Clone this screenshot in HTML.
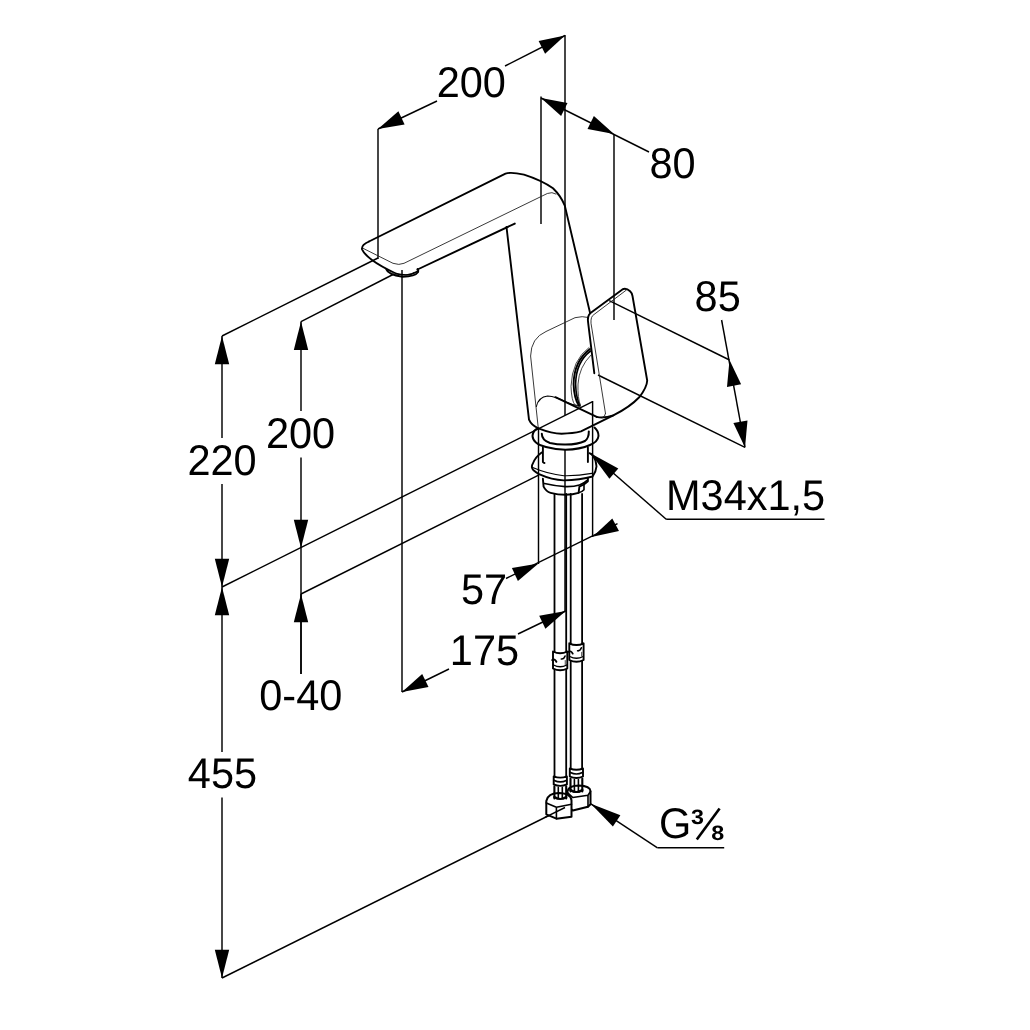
<!DOCTYPE html>
<html><head><meta charset="utf-8"><style>
html,body{margin:0;padding:0;background:#fff;}
svg{display:block;filter:grayscale(100%);}
text{font-family:"Liberation Sans",sans-serif;fill:#000;text-rendering:geometricPrecision;}
</style></head><body>
<svg width="1030" height="1030" viewBox="0 0 1030 1030">
<rect width="1030" height="1030" fill="#fff"/>
<line x1="565" y1="35" x2="565" y2="415" stroke="#000" stroke-width="1.45"/>
<line x1="565" y1="449.7" x2="565" y2="611" stroke="#000" stroke-width="1.45"/>
<line x1="378" y1="129" x2="378" y2="259" stroke="#000" stroke-width="1.45"/>
<line x1="378" y1="129" x2="437" y2="101" stroke="#000" stroke-width="1.45"/>
<line x1="505" y1="66" x2="565" y2="35.5" stroke="#000" stroke-width="1.45"/>
<path d="M378.0,129.0 L404.6,124.4 L398.4,111.3 Z" fill="#000"/>
<path d="M565.0,35.5 L538.6,40.9 L545.1,53.7 Z" fill="#000"/>
<text transform="translate(436.64,97.33) scale(0.965,1)" font-size="43.0">200</text>
<line x1="541" y1="96.5" x2="541" y2="224" stroke="#000" stroke-width="1.45"/>
<line x1="614" y1="134" x2="614" y2="320" stroke="#000" stroke-width="1.45"/>
<line x1="541" y1="98" x2="649" y2="152" stroke="#000" stroke-width="1.45"/>
<path d="M541.0,98.0 L561.1,116.0 L567.5,103.0 Z" fill="#000"/>
<path d="M614.0,134.0 L593.9,116.0 L587.5,129.0 Z" fill="#000"/>
<text transform="translate(649.42,178.28) scale(0.965,1)" font-size="43.0">80</text>
<line x1="609.2" y1="300.6" x2="729.5" y2="360" stroke="#000" stroke-width="1.45"/>
<line x1="598" y1="375" x2="745" y2="447.4" stroke="#000" stroke-width="1.45"/>
<line x1="721.6" y1="320" x2="745" y2="447.4" stroke="#000" stroke-width="1.45"/>
<path d="M729.5,360.0 L727.0,386.9 L741.1,384.3 Z" fill="#000"/>
<path d="M745.0,447.4 L747.5,420.5 L733.4,423.1 Z" fill="#000"/>
<text transform="translate(694.62,311.28) scale(0.965,1)" font-size="43.0">85</text>
<line x1="222" y1="336" x2="378" y2="258" stroke="#000" stroke-width="1.45"/>
<line x1="222" y1="336" x2="222" y2="438" stroke="#000" stroke-width="1.45"/>
<line x1="222" y1="484" x2="222" y2="587" stroke="#000" stroke-width="1.45"/>
<path d="M222.0,336.0 L214.8,364.3 L229.2,364.3 Z" fill="#000"/>
<path d="M222.0,587.0 L229.2,558.7 L214.8,558.7 Z" fill="#000"/>
<text transform="translate(187.44,475.19) scale(0.965,1)" font-size="43.0">220</text>
<line x1="301" y1="321.6" x2="393" y2="274.5" stroke="#000" stroke-width="1.45"/>
<line x1="301" y1="321.6" x2="301" y2="411" stroke="#000" stroke-width="1.45"/>
<line x1="301" y1="457.5" x2="301" y2="674" stroke="#000" stroke-width="1.45"/>
<path d="M301.0,321.6 L293.8,349.9 L308.2,349.9 Z" fill="#000"/>
<path d="M301.0,548.0 L308.2,519.7 L293.8,519.7 Z" fill="#000"/>
<text transform="translate(265.94,448.48) scale(0.965,1)" font-size="43.0">200</text>
<line x1="222" y1="587" x2="592.6" y2="401.7" stroke="#000" stroke-width="1.45"/>
<line x1="301" y1="594" x2="538.6" y2="475.2" stroke="#000" stroke-width="1.45"/>
<line x1="301" y1="594" x2="301" y2="674" stroke="#000" stroke-width="1.45"/>
<path d="M301.0,594.0 L293.8,622.3 L308.2,622.3 Z" fill="#000"/>
<text transform="translate(259.25,710.34) scale(0.965,1)" font-size="43.0">0-40</text>
<line x1="222" y1="587" x2="222" y2="752" stroke="#000" stroke-width="1.45"/>
<line x1="222" y1="797.5" x2="222" y2="978" stroke="#000" stroke-width="1.45"/>
<path d="M222.0,587.0 L214.8,615.3 L229.2,615.3 Z" fill="#000"/>
<path d="M222.0,978.0 L229.2,949.7 L214.8,949.7 Z" fill="#000"/>
<text transform="translate(187.87,788.37) scale(0.965,1)" font-size="43.0">455</text>
<line x1="222" y1="978" x2="565" y2="807.5" stroke="#000" stroke-width="1.45"/>
<line x1="402" y1="270" x2="402" y2="692" stroke="#000" stroke-width="1.45"/>
<line x1="402" y1="692" x2="449" y2="669" stroke="#000" stroke-width="1.45"/>
<line x1="518" y1="634" x2="565.7" y2="611" stroke="#000" stroke-width="1.45"/>
<path d="M402.0,692.0 L428.5,687.0 L422.2,674.1 Z" fill="#000"/>
<path d="M565.7,611.0 L539.2,615.8 L545.4,628.8 Z" fill="#000"/>
<text transform="translate(449.82,665.47) scale(0.965,1)" font-size="43.0">175</text>
<line x1="538.5" y1="428" x2="538.5" y2="564" stroke="#000" stroke-width="1.45"/>
<line x1="592.6" y1="401" x2="592.6" y2="537" stroke="#000" stroke-width="1.45"/>
<line x1="506" y1="578.5" x2="617.5" y2="523.6" stroke="#000" stroke-width="1.45"/>
<path d="M538.5,563.5 L511.9,567.9 L517.9,580.9 Z" fill="#000"/>
<path d="M592.6,536.8 L619.0,531.1 L612.3,518.4 Z" fill="#000"/>
<text transform="translate(460.88,604.07) scale(0.965,1)" font-size="43.0">57</text>
<path d="M590.5,453.3 L609.4,478.8 L618.3,468.5 Z" fill="#000"/>
<line x1="590.5" y1="453.3" x2="666.2" y2="519.2" stroke="#000" stroke-width="1.45"/>
<line x1="666.2" y1="519.2" x2="824.5" y2="519.2" stroke="#000" stroke-width="1.45"/>
<text transform="translate(666.01,509.78) scale(0.965,1)" font-size="43.0">M34x1,5</text>
<path d="M590.8,803.8 L612.9,826.5 L620.4,815.2 Z" fill="#000"/>
<line x1="590.8" y1="803.8" x2="657.5" y2="847.8" stroke="#000" stroke-width="1.45"/>
<line x1="657.5" y1="847.8" x2="724.2" y2="847.8" stroke="#000" stroke-width="1.45"/>
<text transform="translate(659.09,838.49) scale(0.965,1)" font-size="43.0">G</text>
<text transform="translate(691,824.1) scale(1.12,1)" font-size="20.8" font-weight="bold">3</text>
<text transform="translate(711.2,839.6) scale(1.12,1)" font-size="20.8" font-weight="bold">8</text>
<line x1="696.8" y1="839.6" x2="719.6" y2="808.5" stroke="#000" stroke-width="2.6"/>
<path d="M369,241.5 L505.5,173.6 Q511,171.8 524,174.6 Q541,180 553,188.2 Q561,196 564.8,205.6 L590.1,313.1" stroke="#000" stroke-width="1.9" fill="none" stroke-linejoin="round" stroke-linecap="round"/>
<path d="M369,241.5 Q361,245 362.1,249.5 Q364,254 372,260 Q380,266 395.8,273.5 M417.5,269.5 L514.8,223.6" stroke="#000" stroke-width="1.9" fill="none" stroke-linejoin="round" stroke-linecap="round"/>
<path d="M363.2,248.4 L393,263.3 Q399,265.5 404,263.3 L547.3,193.5 Q552,191.5 556,194" stroke="#222" stroke-width="0.9" fill="none" stroke-linejoin="round" stroke-linecap="round"/>
<path d="M386.3,269.4 Q388,274.5 402.6,276.9 Q415,276.8 418.2,272.1 Q418.8,270 417.5,269" stroke="#000" stroke-width="1.8" fill="none" stroke-linejoin="round" stroke-linecap="round"/>
<path d="M392,273 Q400,275.2 406,274.8 Q412,274.5 414,272.5" stroke="#333" stroke-width="1.0" fill="none" stroke-linejoin="round" stroke-linecap="round"/>
<path d="M395.8,273.5 Q401,275 406,275 Q413,274.5 418,271" stroke="#000" stroke-width="1.6" fill="none" stroke-linejoin="round" stroke-linecap="round"/>
<path d="M506.5,227 L529,419.7 Q531.5,425.5 538.3,428.3 Q552,433.5 561.6,433.7 Q573,433.5 581,431.4 L613.3,415.4" stroke="#000" stroke-width="1.9" fill="none" stroke-linejoin="round" stroke-linecap="round"/>
<path d="M587.4,317.3 Q583,315.8 575,317.7 L546,331.5 Q531,338 530.6,356 L538.3,428.3" stroke="#222" stroke-width="0.9" fill="none" stroke-linejoin="round" stroke-linecap="round"/>
<path d="M536.4,406.5 Q538.5,397 547.6,396 Q556,396.5 565.5,401.8 Q572,405 579.5,406.1" stroke="#000" stroke-width="1.1" fill="none" stroke-linejoin="round" stroke-linecap="round"/>
<path d="M555.4,397.2 L596.7,416.9" stroke="#000" stroke-width="1.9" fill="none" stroke-linejoin="round" stroke-linecap="round"/>
<path d="M594.3,373.2 L588.2,323.2 Q587,316 590.5,313.1 L622.4,289.4 Q626,287.5 630.1,291.3 Q632,293 632.5,296 L647.2,380.5 Q647,387 639.5,397 Q630,407 613.3,415.4 Q604,418.5 596.7,416.9" stroke="#000" stroke-width="1.9" fill="none" stroke-linejoin="round" stroke-linecap="round"/>
<path d="M605.5,413.5 L591,323.2 Q590.5,316.5 594,314.5 L626.3,290.1" stroke="#222" stroke-width="0.9" fill="none" stroke-linejoin="round" stroke-linecap="round"/>
<path d="M605.5,413.5 Q605,417 602.6,417.4" stroke="#222" stroke-width="0.9" fill="none" stroke-linejoin="round" stroke-linecap="round"/>
<path d="M589,347.5 Q572,360 571,386.3 Q571.5,401 575,405 Q577,405.8 579,405.7" stroke="#333" stroke-width="0.9" fill="none" stroke-linejoin="round" stroke-linecap="round"/>
<path d="M590,349 Q574,361 573.6,384 Q574,398 578.8,405.5" stroke="#000" stroke-width="1.9" fill="none" stroke-linejoin="round" stroke-linecap="round"/>
<path d="M590.5,351 Q576,362 575.6,384 Q576,398 580.2,405.8" stroke="#000" stroke-width="1.6" fill="none" stroke-linejoin="round" stroke-linecap="round"/>
<path d="M591,355 Q579,367 578,384 Q577.5,398 580.5,405.7" stroke="#333" stroke-width="0.9" fill="none" stroke-linejoin="round" stroke-linecap="round"/>
<path d="M538.3,428.3 Q533,430 532.5,436 Q533,444 546,447 Q556,449.6 565.4,449.7 Q580,449.5 590,445 Q598,441.6 598.5,436 Q598.5,431 594.5,427.6" stroke="#000" stroke-width="2.0" fill="none" stroke-linejoin="round" stroke-linecap="round"/>
<path d="M541.8,433.7 Q541.8,440 550,443 Q558,444.8 565.6,444.6 Q578,444.5 585,441 Q589,438 588.8,431.4" stroke="#000" stroke-width="2.0" fill="none" stroke-linejoin="round" stroke-linecap="round"/>
<path d="M542.9,447.5 L542.9,462 Q543.5,463 544.5,463 M587.9,447.5 L587.9,462" stroke="#000" stroke-width="1.9" fill="none" stroke-linejoin="round" stroke-linecap="round"/>
<path d="M541.7,452.4 Q535.1,457.1 533,463.3 Q530.5,467.2 533.5,470.3 Q536,472.5 539,474.2 Q552,480 563.8,480.4 Q580,480 592.6,476.5 Q596,472 596.5,466.4 Q596,460 593.3,456.3 Q592,454.5 589.5,453.2" stroke="#000" stroke-width="1.9" fill="none" stroke-linejoin="round" stroke-linecap="round"/>
<path d="M532,467.2 Q548,474 563.8,475.7 Q578,476 591.8,473.4" stroke="#000" stroke-width="1.1" fill="none" stroke-linejoin="round" stroke-linecap="round"/>
<path d="M542.9,478.8 L543.6,486.6 Q546,491.5 550.6,492.8 Q558,494.8 565.4,494.8 Q573,494.5 578.6,492.8 L579.4,486.6 Q584,485 587.9,481.2 L587.9,478" stroke="#000" stroke-width="1.9" fill="none" stroke-linejoin="round" stroke-linecap="round"/>
<path d="M544.4,483.5 Q555,486 565.4,486.6 Q574,486.8 579.4,485 Q584,483.5 587.1,480.4" stroke="#000" stroke-width="1.6" fill="none" stroke-linejoin="round" stroke-linecap="round"/>
<path d="M584,483 L584,489.7 Q582,492 578.6,492.8" stroke="#000" stroke-width="1.6" fill="none" stroke-linejoin="round" stroke-linecap="round"/>
<path d="M554.5,494 L554.5,777 M566.2,494 L566.2,777 M570.7,494 L570.7,770 M582.1,494 L582.1,770" stroke="#000" stroke-width="1.8" fill="none" stroke-linejoin="round" stroke-linecap="round"/>
<path d="M553,651.5 Q560.15,655.0 567.3,651.5 L567.3,668.5 Q560.15,672.0 553,668.5 Z" stroke="#000" stroke-width="1.9" fill="#fff" stroke-linejoin="round" stroke-linecap="round"/>
<path d="M553.5,665.0 Q560.15,668.5 566.8,665.0" stroke="#000" stroke-width="1.4" fill="none" stroke-linejoin="round" stroke-linecap="round"/>
<path d="M552.2,660.0 q2.5,-1.5 4.2,1.8" stroke="#000" stroke-width="1.9" fill="none" stroke-linejoin="round" stroke-linecap="round"/>
<path d="M561.3,659.0 q2.5,0.3 3.8,-3" stroke="#000" stroke-width="1.6" fill="none" stroke-linejoin="round" stroke-linecap="round"/>
<path d="M565.3,660.5 L565.3,664.5" stroke="#666" stroke-width="1.2" fill="none" stroke-linejoin="round" stroke-linecap="round"/>
<path d="M569.3,643.3 Q576.45,646.8 583.6,643.3 L583.6,660 Q576.45,663.5 569.3,660 Z" stroke="#000" stroke-width="1.9" fill="#fff" stroke-linejoin="round" stroke-linecap="round"/>
<path d="M569.8,656.5 Q576.45,660 583.1,656.5" stroke="#000" stroke-width="1.4" fill="none" stroke-linejoin="round" stroke-linecap="round"/>
<path d="M568.5,651.8 q2.5,-1.5 4.2,1.8" stroke="#000" stroke-width="1.9" fill="none" stroke-linejoin="round" stroke-linecap="round"/>
<path d="M577.6,650.8 q2.5,0.3 3.8,-3" stroke="#000" stroke-width="1.6" fill="none" stroke-linejoin="round" stroke-linecap="round"/>
<path d="M581.6,652.3 L581.6,656.3" stroke="#666" stroke-width="1.2" fill="none" stroke-linejoin="round" stroke-linecap="round"/>
<path d="M567.5,791 Q569,785.5 579,785.5 Q590,786 590.5,791 L590.5,804.2 L588,806.7 L572.8,810.5 L567.5,806 Z" stroke="#000" stroke-width="2.0" fill="#fff" stroke-linejoin="round" stroke-linecap="round"/>
<path d="M568,793 L572.8,797.5 L588,795.3 L590.5,791.5 M588,795.3 L588,806.7" stroke="#000" stroke-width="1.6" fill="none" stroke-linejoin="round" stroke-linecap="round"/>
<path d="M569.8,768.5 L569.8,776.5 Q576.4,779.5 583.0,776.5 L583.0,768.5 Q576.4,771.0 569.8,768.5 Z" stroke="#000" stroke-width="1.9" fill="#fff" stroke-linejoin="round" stroke-linecap="round"/>
<path d="M570.4,772.5 Q576.4,775.5 582.4,772.5" stroke="#000" stroke-width="1.7" fill="none" stroke-linejoin="round" stroke-linecap="round"/>
<path d="M570.5,778.5 L570.5,791.5 M582.3,778.5 L582.3,791.5" stroke="#000" stroke-width="2.1" fill="none" stroke-linejoin="round" stroke-linecap="round"/>
<path d="M574.4,779.5 L574.4,790.5 M578.4,779.5 L578.4,790.5" stroke="#000" stroke-width="1.6" fill="none" stroke-linejoin="round" stroke-linecap="round"/>
<path d="M570.4,790.0 Q576.4,794.0 582.4,790.0" stroke="#000" stroke-width="2.2" fill="none" stroke-linejoin="round" stroke-linecap="round"/>
<path d="M570.3,790 Q576.4,794.5 582.5,790" stroke="#000" stroke-width="1.6" fill="none" stroke-linejoin="round" stroke-linecap="round"/>
<path d="M546.3,801 Q548,793 559,793 Q571,793.5 571.5,800.4 L571.5,816.8 L556.4,818.7 L546.3,814.3 Z" stroke="#000" stroke-width="2.0" fill="#fff" stroke-linejoin="round" stroke-linecap="round"/>
<path d="M546.3,802.9 L556.4,807.3 L571.5,804.2 M556.4,807.3 L556.4,818.7" stroke="#000" stroke-width="1.6" fill="none" stroke-linejoin="round" stroke-linecap="round"/>
<path d="M553.6999999999999,776.4 L553.6999999999999,784.4 Q560.3,787.4 566.9,784.4 L566.9,776.4 Q560.3,778.9 553.6999999999999,776.4 Z" stroke="#000" stroke-width="1.9" fill="#fff" stroke-linejoin="round" stroke-linecap="round"/>
<path d="M554.3,780.4 Q560.3,783.4 566.3,780.4" stroke="#000" stroke-width="1.7" fill="none" stroke-linejoin="round" stroke-linecap="round"/>
<path d="M554.4,786.4 L554.4,798.5 M566.1999999999999,786.4 L566.1999999999999,798.5" stroke="#000" stroke-width="2.1" fill="none" stroke-linejoin="round" stroke-linecap="round"/>
<path d="M558.3,787.4 L558.3,797.5 M562.3,787.4 L562.3,797.5" stroke="#000" stroke-width="1.6" fill="none" stroke-linejoin="round" stroke-linecap="round"/>
<path d="M554.3,797.0 Q560.3,801.0 566.3,797.0" stroke="#000" stroke-width="2.2" fill="none" stroke-linejoin="round" stroke-linecap="round"/>
<line x1="545" y1="817.4" x2="565" y2="807.5" stroke="#000" stroke-width="1.45"/>
</svg></body></html>
